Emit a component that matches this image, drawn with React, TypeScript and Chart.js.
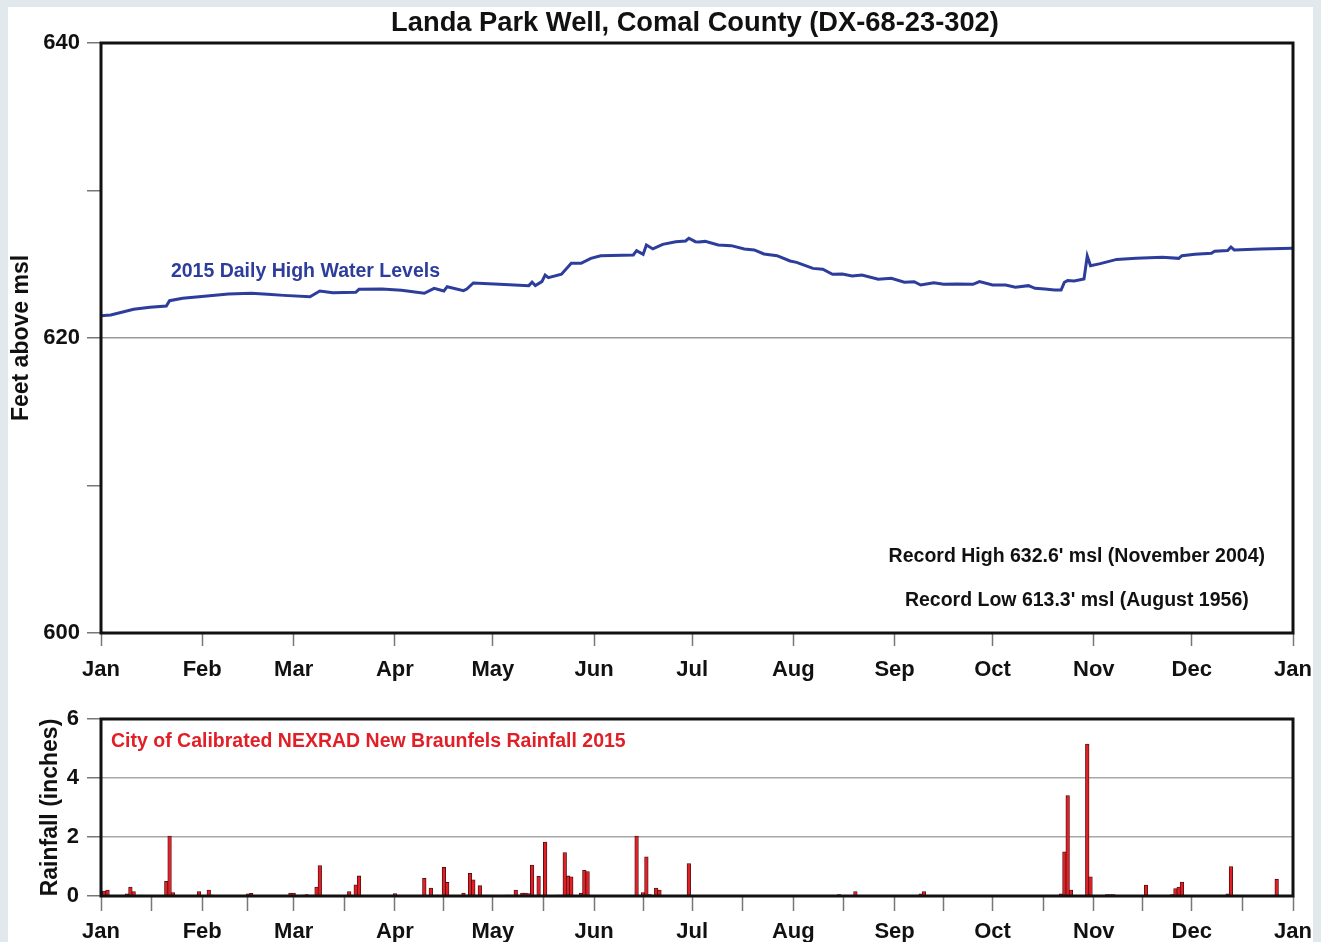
import React, { useEffect, useRef } from "react";
import { Chart, registerables } from "chart.js";

Chart.register(...registerables);

// ---------- data ----------
const monthLabels = ["Jan", "Feb", "Mar", "Apr", "May", "Jun", "Jul", "Aug", "Sep", "Oct", "Nov", "Dec", "Jan"];
const monthStartDays = [0, 31, 59, 90, 120, 151, 181, 212, 243, 273, 304, 334, 365];

const levelTicks = [600, 610, 620, 630, 640];
const levelLabeledTicks = [600, 620, 640];
const rainTicks = [0, 2, 4, 6];

// 2015 daily high water levels (day of year, feet above msl)
const levelDays = [
  0, 3, 10, 15, 20, 21, 25, 30, 39, 46, 51, 56, 64, 67, 71, 78, 79, 86, 92, 99,
  102, 105, 106, 111, 112, 114, 122, 131, 132, 133, 135, 136, 137, 141, 144, 147, 150, 153, 163, 164,
  166, 167, 169, 172, 176, 179, 180, 182, 183, 185, 189, 193, 197, 200, 203, 207, 211, 213, 218, 221,
  224, 227, 230, 233, 238, 242, 246, 249, 251, 255, 258, 262, 267, 269, 273, 277, 280, 284, 286, 289,
  292, 294, 295, 296, 298, 301, 302, 303, 306, 311, 317, 325, 330, 331, 335, 340, 341, 345, 346, 347,
  355, 365,
];
const levelValues = [
  621.51, 621.56, 621.95, 622.08, 622.17, 622.53, 622.69, 622.8, 622.98, 623.03, 622.96, 622.89, 622.8, 623.19, 623.07, 623.1, 623.3, 623.32, 623.24, 623.03,
  623.37, 623.19, 623.48, 623.21, 623.32, 623.73, 623.64, 623.55, 623.78, 623.55, 623.82, 624.27, 624.09, 624.32, 625.06, 625.06, 625.4, 625.58, 625.63, 625.92,
  625.67, 626.31, 626.04, 626.35, 626.53, 626.58, 626.76, 626.53, 626.51, 626.55, 626.31, 626.26, 626.04, 625.97, 625.7, 625.58, 625.22, 625.13, 624.72, 624.66,
  624.32, 624.34, 624.21, 624.27, 623.98, 624.05, 623.78, 623.82, 623.59, 623.75, 623.64, 623.66, 623.64, 623.82, 623.59, 623.59, 623.44, 623.55, 623.37, 623.32,
  623.26, 623.26, 623.78, 623.89, 623.87, 624.0, 625.56, 624.9, 625.04, 625.33, 625.4, 625.47, 625.4, 625.58, 625.67, 625.74, 625.88, 625.93, 626.17, 625.97,
  626.04, 626.08,
];

// daily rainfall (day of year, inches)
const rainDays = [
  0, 1, 2, 8, 9, 10, 12, 20, 21, 22, 30, 33, 34, 45, 46, 58, 59, 62, 63, 65,
  66, 67, 76, 78, 79, 90, 99, 101, 103, 105, 106, 111, 113, 114, 116, 124, 125, 127, 129, 130,
  131, 132, 134, 136, 140, 141, 142, 143, 144, 147, 148, 149, 164, 166, 167, 168, 170, 171, 180, 211,
  223, 226, 231, 251, 252, 294, 295, 296, 297, 302, 303, 308, 309, 310, 320, 328, 329, 330, 331, 345,
  346, 360,
];
const rainValues = [
  0.15, 0.17, 0.2, 0.07, 0.3, 0.15, 0.03, 0.5, 2.03, 0.12, 0.15, 0.2, 0.03, 0.07, 0.09, 0.1, 0.1, 0.03, 0.05, 0.03,
  0.3, 1.03, 0.15, 0.38, 0.68, 0.08, 0.6, 0.27, 0.03, 0.97, 0.46, 0.1, 0.77, 0.55, 0.35, 0.03, 0.03, 0.2, 0.1, 0.1,
  0.08, 1.05, 0.67, 1.83, 0.03, 0.03, 1.47, 0.68, 0.65, 0.1, 0.87, 0.83, 2.03, 0.12, 1.33, 0.05, 0.27, 0.2, 1.1, 0.02,
  0.02, 0.05, 0.15, 0.07, 0.15, 0.07, 1.5, 3.4, 0.2, 5.15, 0.65, 0.05, 0.05, 0.05, 0.37, 0.05, 0.25, 0.3, 0.47, 0.07,
  1.0, 0.57,
];

// ---------- styles ----------
const FONT = "'Liberation Sans', Arial, Helvetica, sans-serif";
const INK = "#111111";
const BLUE = "#2c3d9c";
const RED = "#e11f27";
const W = 1321;
const TOP_H = 690;
const BOT_H = 252;

const framePlugin = {
  id: "frame",
  afterDraw(chart: any) {
    const { ctx, chartArea: a } = chart;
    ctx.save();
    ctx.strokeStyle = INK;
    ctx.lineWidth = 3;
    ctx.strokeRect(a.left, a.top, a.right - a.left, a.bottom - a.top);
    ctx.restore();
  },
};

function drawText(ctx: any, text: string, x: number, y: number, font: string, color: string, align: string) {
  ctx.save();
  ctx.font = font;
  ctx.fillStyle = color;
  ctx.textAlign = align;
  ctx.textBaseline = "middle";
  ctx.fillText(text, x, y);
  ctx.restore();
}

const topTextPlugin = {
  id: "topText",
  afterDraw(chart: any) {
    const { ctx, chartArea: a, scales } = chart;
    const x = scales.x;
    const y = scales.y;
    drawText(ctx, "Landa Park Well, Comal County (DX-68-23-302)", (a.left + a.right) / 2 - 2, 23, `bold 27.3px ${FONT}`, INK, "center");
    drawText(ctx, "2015 Daily High Water Levels", x.getPixelForValue(21.4), y.getPixelForValue(624.47), `bold 19.5px ${FONT}`, BLUE, "left");
    drawText(ctx, "Record High 632.6' msl (November 2004)", x.getPixelForValue(298.8), y.getPixelForValue(605.15), `bold 19.5px ${FONT}`, INK, "center");
    drawText(ctx, "Record Low 613.3' msl (August 1956)", x.getPixelForValue(298.8), y.getPixelForValue(602.17), `bold 19.5px ${FONT}`, INK, "center");
  },
};

const bottomTextPlugin = {
  id: "bottomText",
  afterDraw(chart: any) {
    const { ctx, scales } = chart;
    drawText(ctx, "City of Calibrated NEXRAD New Braunfels Rainfall 2015", scales.x.getPixelForValue(3.06), scales.y.getPixelForValue(5.25), `bold 19.5px ${FONT}`, RED, "left");
  },
};

const monthLabelFor = (v: number) => {
  const i = monthStartDays.indexOf(v);
  return i >= 0 ? monthLabels[i] : "";
};

const tickFont = { family: FONT, size: 22, weight: "bold" as const };

const fixX = (h: number) => (s: any) => {
  s.height = h;
  s.paddingLeft = 0;
  s.paddingRight = 0;
};
const fixY = (w: number) => (s: any) => {
  s.width = w;
  s.paddingTop = 0;
  s.paddingBottom = 0;
};

export default function App() {
  const topRef = useRef<HTMLCanvasElement | null>(null);
  const botRef = useRef<HTMLCanvasElement | null>(null);

  useEffect(() => {
    const top = new Chart(topRef.current as HTMLCanvasElement, {
      type: "line",
      data: {
        datasets: [
          {
            data: levelDays.map((d, i) => ({ x: d, y: levelValues[i] })),
            borderColor: BLUE,
            borderWidth: 3,
            pointRadius: 0,
            tension: 0,
          },
        ],
      },
      options: {
        animation: false,
        responsive: false,
        layout: { padding: { top: 43, right: W - 1293, bottom: 0, left: 0 } },
        plugins: { legend: { display: false }, tooltip: { enabled: false } },
        scales: {
          x: {
            type: "linear",
            min: 0,
            max: 365,
            afterBuildTicks: (s: any) => {
              s.ticks = monthStartDays.map((v) => ({ value: v }));
            },
            afterFit: fixX(57),
            ticks: { autoSkip: false, maxRotation: 0, padding: 11, color: INK, font: tickFont, callback: (v: any) => monthLabelFor(Number(v)) },
            grid: { drawOnChartArea: false, tickLength: 13, tickColor: "#777", tickWidth: 1.5 },
            border: { display: false },
          },
          y: {
            type: "linear",
            min: 600,
            max: 640,
            afterBuildTicks: (s: any) => {
              s.ticks = levelTicks.map((v) => ({ value: v }));
            },
            afterFit: fixY(101),
            ticks: {
              padding: 7,
              color: INK,
              font: tickFont,
              callback: (v: any) => (levelLabeledTicks.includes(Number(v)) ? String(v) : ""),
            },
            grid: {
              color: (c: any) => (c.tick && c.tick.value === 620 ? "#9a9a9a" : "rgba(0,0,0,0)"),
              lineWidth: 1.5,
              tickLength: 14,
              tickColor: "#777",
              tickWidth: 1.5,
            },
            border: { display: false },
            title: { display: true, text: "Feet above msl", color: INK, font: { family: FONT, size: 23, weight: "bold" }, padding: { top: 8, bottom: 0 } },
          },
        },
      },
      plugins: [framePlugin, topTextPlugin],
    } as any);

    const bot = new Chart(botRef.current as HTMLCanvasElement, {
      type: "bar",
      data: {
        datasets: [
          {
            data: rainDays.map((d, i) => ({ x: d, y: rainValues[i] })),
            backgroundColor: RED,
            borderColor: "#3d0a0a",
            borderWidth: 0.8,
            barThickness: 3.6,
          },
        ],
      },
      options: {
        animation: false,
        responsive: false,
        layout: { padding: { top: 29, right: W - 1293, bottom: 0, left: 0 } },
        plugins: { legend: { display: false }, tooltip: { enabled: false } },
        scales: {
          x: {
            type: "linear",
            min: 0,
            max: 365,
            offset: false,
            afterBuildTicks: (s: any) => {
              const mids = monthStartDays.slice(0, -1).map((d, i) => (d + monthStartDays[i + 1]) / 2);
              s.ticks = [...monthStartDays, ...mids].sort((a, b) => a - b).map((v) => ({ value: v }));
            },
            afterFit: fixX(46),
            ticks: { autoSkip: false, maxRotation: 0, padding: 8, color: INK, font: tickFont, callback: (v: any) => monthLabelFor(Number(v)) },
            grid: { offset: false, drawOnChartArea: false, tickLength: 15, tickColor: "#777", tickWidth: 1.5 },
            border: { display: false },
          },
          y: {
            type: "linear",
            min: 0,
            max: 6,
            afterBuildTicks: (s: any) => {
              s.ticks = rainTicks.map((v) => ({ value: v }));
            },
            afterFit: fixY(101),
            ticks: { padding: 8, color: INK, font: tickFont, callback: (v: any) => String(v) },
            grid: {
              color: (c: any) => (c.tick && (c.tick.value === 2 || c.tick.value === 4) ? "#a8a8a8" : "rgba(0,0,0,0)"),
              lineWidth: 1.5,
              tickLength: 14,
              tickColor: "#777",
              tickWidth: 1.5,
            },
            border: { display: false },
            title: { display: true, text: "Rainfall (inches)", color: INK, font: { family: FONT, size: 23, weight: "bold" }, padding: { top: 37, bottom: 0 } },
          },
        },
      },
      plugins: [framePlugin, bottomTextPlugin],
    } as any);

    return () => {
      top.destroy();
      bot.destroy();
    };
  }, []);

  return (
    <div style={{ position: "fixed", left: 0, top: 0, width: W, height: 942, background: "#e1e9ed", overflow: "hidden" }}>
      <div style={{ position: "absolute", left: 8, top: 7, width: 1305, height: 935, background: "#ffffff" }} />
      <canvas ref={topRef} width={W} height={TOP_H} style={{ position: "absolute", left: 0, top: 0, width: W, height: TOP_H }} />
      <canvas ref={botRef} width={W} height={BOT_H} style={{ position: "absolute", left: 0, top: TOP_H, width: W, height: BOT_H }} />
    </div>
  );
}
